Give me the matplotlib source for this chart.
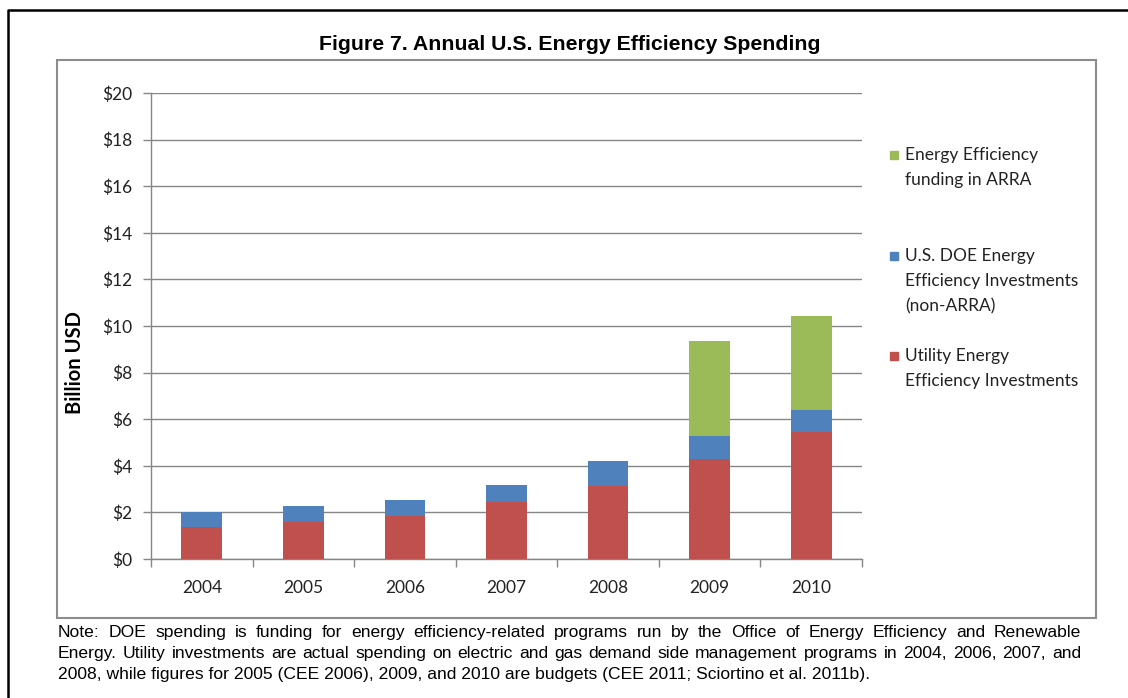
import matplotlib
matplotlib.use("Agg")
import matplotlib.pyplot as plt
from matplotlib.patches import Rectangle
from matplotlib.lines import Line2D
import numpy as np

# ---------------- data ----------------
years = ['2004', '2005', '2006', '2007', '2008', '2009', '2010']
utility = [1.37, 1.60, 1.85, 2.46, 3.15, 4.28, 5.47]
doe = [0.66, 0.66, 0.67, 0.70, 1.04, 0.99, 0.91]
arra = [0.0, 0.0, 0.0, 0.0, 0.0, 4.09, 4.07]
yticks = [0, 2, 4, 6, 8, 10, 12, 14, 16, 18, 20]
ytick_labels = ['$%d' % v for v in yticks]

series_names = ['Utility Energy\nEfficiency Investments',
                'U.S. DOE Energy\nEfficiency Investments\n(non-ARRA)',
                'Energy Efficiency\nfunding in ARRA']
colors = ['#C0504D', '#4F81BD', '#9BBB59']

title = 'Figure 7. Annual U.S. Energy Efficiency Spending'
ylabel = 'Billion USD'
note_lines = [
    'Note: DOE spending is funding for energy efficiency-related programs run by the Office of Energy Efficiency and Renewable',
    'Energy. Utility investments are actual spending on electric and gas demand side management programs in 2004, 2006, 2007, and',
    '2008, while figures for 2005 (CEE 2006), 2009, and 2010 are budgets (CEE 2011; Sciortino et al. 2011b).',
]

# ---------------- figure ----------------
W, H = 1128, 698
DPI = 100
fig = plt.figure(figsize=(W / DPI, H / DPI), dpi=DPI)
fig.patch.set_facecolor('white')

def fx(px):
    return px / W

def fy(py):
    return 1 - py / H

GRAY = '#868686'
LAB = 'Lato'

ax = fig.add_axes([fx(151), fy(559), fx(862) - fx(151), fy(93) - fy(559)])
x = np.arange(len(years))
bw = 0.4
ax.bar(x, utility, bw, color=colors[0], zorder=3)
ax.bar(x, doe, bw, bottom=utility, color=colors[1], zorder=3)
bottom2 = [u + d for u, d in zip(utility, doe)]
ax.bar(x, arra, bw, bottom=bottom2, color=colors[2], zorder=3)

ax.set_xlim(-0.5, len(years) - 0.5)
ax.set_ylim(0, 20)
ax.set_yticks(yticks)
ax.set_yticklabels(ytick_labels, fontsize=12.5, family=LAB, color='#222222')
ax.set_xticks(x)
ax.set_xticklabels(years, fontsize=12.5, family=LAB, color='#222222')
ax.set_xticks(np.arange(len(years) + 1) - 0.5, minor=True)
ax.tick_params(axis='x', which='major', length=0, pad=15)
ax.tick_params(axis='x', which='minor', length=5.5, color=GRAY, width=1)
ax.tick_params(axis='y', which='major', length=6, color=GRAY, width=1, pad=7.5)
ax.yaxis.grid(True, color=GRAY, lw=1)
ax.set_axisbelow(True)
for s in ['top', 'right']:
    ax.spines[s].set_visible(False)
for s in ['left', 'bottom']:
    ax.spines[s].set_color(GRAY)
    ax.spines[s].set_linewidth(1)

# chart box
fig.add_artist(Rectangle((fx(57), fy(618)), fx(1096) - fx(57), fy(60) - fy(618),
                         transform=fig.transFigure, fill=False, ec='#8c8c8c', lw=1.5))
# outer frame (left and top)
fig.add_artist(Line2D([fx(8), fx(8), 1.0], [0.0, fy(10), fy(10)],
                      transform=fig.transFigure, color='black', lw=1.8))

fig.text(fx(570), fy(45), title, ha='center', va='center', fontsize=15.3,
         fontweight='bold', family='Liberation Sans')
fig.text(fx(75), fy(363), ylabel, ha='center', va='center', rotation=90,
         fontsize=14.5, fontweight='bold', family=LAB)

# legend (manual, Excel style: top-aligned entries)
leg_tops = [356, 256, 155]  # first-line centers for red, blue, green
for name, col, yc in zip(series_names, colors, leg_tops):
    fig.add_artist(Rectangle((fx(890), fy(yc + 4)), fx(8), 8 / H,
                             transform=fig.transFigure, color=col))
    for i, line in enumerate(name.split('\n')):
        fig.text(fx(905), fy(yc + i * 25.3), line, ha='left', va='center',
                 fontsize=12.5, family=LAB, color='#222222')

# note text, justified
fig.canvas.draw()
r = fig.canvas.get_renderer()
probe = fig.text(0, 0, note_lines[2], fontsize=10, family='Liberation Sans')
wprobe = probe.get_window_extent(r).width
probe.remove()
fs = 10 * 815 / wprobe
left_px, right_px = 58, 1081
baselines = [637, 658, 679]
for li, (line, yb) in enumerate(zip(note_lines, baselines)):
    words = line.split(' ')
    if li == len(note_lines) - 1:
        fig.text(fx(left_px), fy(yb), line, ha='left', va='baseline', fontsize=fs,
                 family='Liberation Sans', color='black')
        continue
    txts = [fig.text(0, fy(yb), w, ha='left', va='baseline', fontsize=fs,
                     family='Liberation Sans', color='black') for w in words]
    widths = [t.get_window_extent(r).width for t in txts]
    gap = (right_px - left_px - sum(widths)) / (len(words) - 1)
    pos = left_px
    for t, wd in zip(txts, widths):
        t.set_x(fx(pos))
        pos += wd + gap

fig.savefig('out.png', dpi=DPI, facecolor='white')
